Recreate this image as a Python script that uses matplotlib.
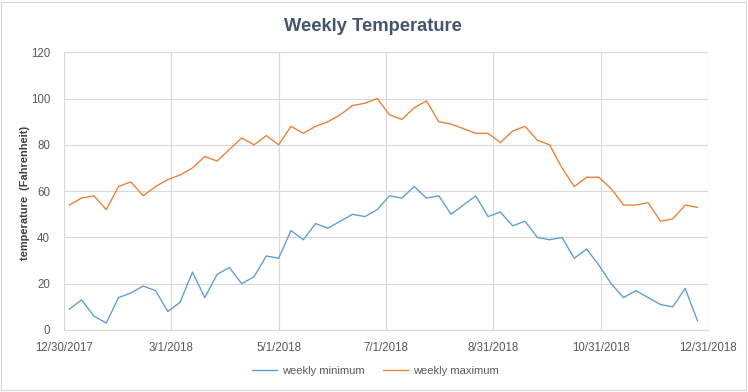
import matplotlib
matplotlib.use("Agg")
import matplotlib.pyplot as plt
import matplotlib.dates as mdates
from matplotlib.lines import Line2D
from matplotlib.patches import Rectangle
import numpy as np
import datetime as dt

plt.rcParams['font.family'] = ['Liberation Sans', 'DejaVu Sans']

start_date = dt.date(2018, 1, 2)
n_weeks = 52
weeks = [start_date + dt.timedelta(days=7 * i) for i in range(n_weeks)]

weekly_minimum = [9, 13, 6, 3, 14, 16, 19, 17, 8, 12,
                  25, 14, 24, 27, 20, 23, 32, 31, 43, 39,
                  46, 44, 47, 50, 49, 52, 58, 57, 62, 57,
                  58, 50, 54, 58, 49, 51, 45, 47, 40, 39,
                  40, 31, 35, 28, 20, 14, 17, 14, 11, 10,
                  18, 4]
weekly_maximum = [54, 57, 58, 52, 62, 64, 58, 62, 65, 67,
                  70, 75, 73, 78, 83, 80, 84, 80, 88, 85,
                  88, 90, 93, 97, 98, 100, 93, 91, 96, 99,
                  90, 89, 87, 85, 85, 81, 86, 88, 82, 80,
                  70, 62, 66, 66, 61, 54, 54, 55, 47, 48,
                  54, 53]

tick_dates = [dt.date(2017, 12, 30), dt.date(2018, 3, 1), dt.date(2018, 5, 1),
              dt.date(2018, 7, 1), dt.date(2018, 8, 31), dt.date(2018, 10, 31),
              dt.date(2018, 12, 31)]
tick_labels = ["12/30/2017", "3/1/2018", "5/1/2018", "7/1/2018",
               "8/31/2018", "10/31/2018", "12/31/2018"]
y_ticks = [0, 20, 40, 60, 80, 100, 120]

W, H = 748, 392
fig = plt.figure(figsize=(W / 100, H / 100), dpi=100)
fig.patch.set_facecolor('white')

# chart border
fig.patches.append(Rectangle((1.0 / W, 2.5 / H), 745.0 / W, 388.0 / H,
                             transform=fig.transFigure, fill=False,
                             edgecolor='#D9D9D9', linewidth=0.9))

L, R, T, B = 64, 708, 52.3, 330
ax = fig.add_axes([L / W, 1 - B / H, (R - L) / W, (B - T) / H])

grid_c = '#D9D9D9'
ax.plot(weeks, weekly_minimum, color='#5B9BD5', linewidth=0.95, label='weekly minimum')
ax.plot(weeks, weekly_maximum, color='#ED7D31', linewidth=0.95, label='weekly maximum')

ax.set_xlim(tick_dates[0], tick_dates[-1])
ax.set_ylim(0, 120)
ax.set_xticks(tick_dates)
ax.set_xticklabels(tick_labels)
ax.set_yticks(y_ticks)
ax.grid(True, color=grid_c, linewidth=0.8)
ax.set_axisbelow(True)
for s in ['top', 'right', 'left']:
    ax.spines[s].set_visible(False)
ax.spines['bottom'].set_color(grid_c)
ax.spines['bottom'].set_linewidth(0.8)
ax.tick_params(axis='both', length=0, colors='#595959', labelsize=8.3)
ax.tick_params(axis='y', pad=10)
ax.tick_params(axis='x', pad=8.5)

fig.text(373 / W, 1 - 31 / H, "Weekly Temperature", ha='center', va='baseline',
         fontsize=13.2, fontweight='bold', color='#44546A')

fig.text(25 / W, 1 - 193 / H, "temperature  (Fahrenheit)", rotation=90,
         ha='center', va='center', fontsize=7.9, fontweight='bold', color='#3F3F3F')

handles = [Line2D([], [], color='#5B9BD5', linewidth=0.95),
           Line2D([], [], color='#ED7D31', linewidth=0.95)]
leg = fig.legend(handles, ['weekly minimum', 'weekly maximum'], loc='center',
                 bbox_to_anchor=(375.5 / W, 1 - 371 / H), ncol=2, frameon=False,
                 fontsize=8, handlelength=2.25, handletextpad=0.45,
                 columnspacing=1.7, borderpad=0, borderaxespad=0)
for t in leg.get_texts():
    t.set_color('#595959')

fig.savefig('out.png', dpi=100, facecolor='white')
